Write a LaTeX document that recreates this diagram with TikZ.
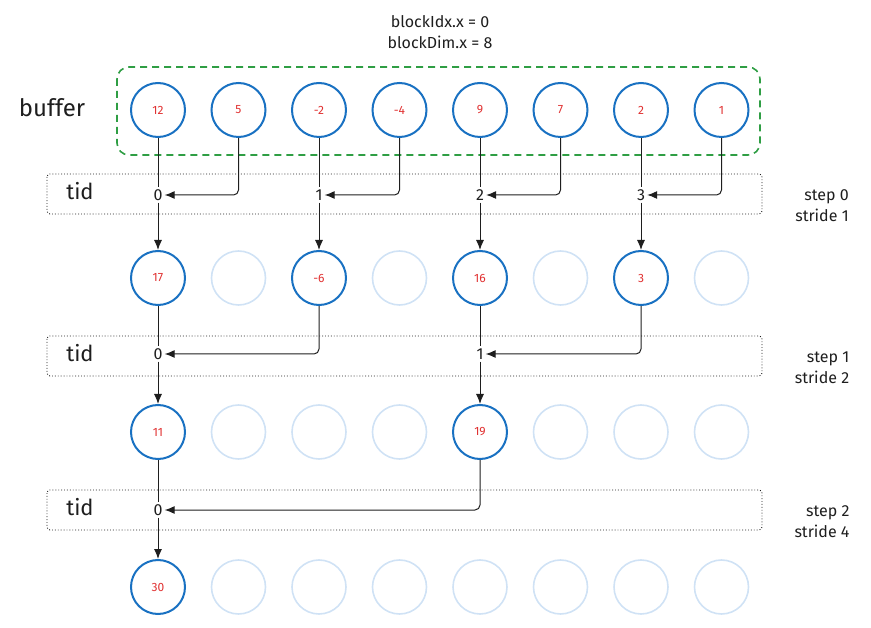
\documentclass[tikz,border=0pt]{standalone}
\usepackage{fontspec}
\setmainfont{Fira Sans}
\usetikzlibrary{arrows.meta}
\definecolor{cb}{HTML}{1971C2}
\definecolor{ce}{HTML}{D0E2F5}
\definecolor{cr}{HTML}{E03131}
\definecolor{cg}{HTML}{2F9E44}
\definecolor{ck}{HTML}{1E1E1E}
\begin{document}
\begin{tikzpicture}[x=1pt,y=-1pt,
 c/.style={circle,draw=cb,line width=2pt,minimum size=54pt,inner sep=0pt,text=cr,font=\fontsize{12}{14}\selectfont},
 e/.style={circle,draw=ce,line width=1.6pt,minimum size=54pt,inner sep=0pt},
 t/.style={font=\fontsize{16}{18}\selectfont,inner sep=2pt,text=ck},
 a/.style={-{Latex[length=10pt,width=8pt]},line width=1pt,draw=ck},
 l/.style={line width=1pt,draw=ck},
 j/.style={-{Latex[length=10pt,width=8pt]},line width=1pt,draw=ck,rounded corners=5pt},
 box/.style={draw=ck,dotted,line width=0.9pt,rounded corners=3pt}]
\useasboundingbox (0,0) rectangle (871,628);
\draw[dashed,draw=cg,line width=1.6pt,rounded corners=12pt,dash pattern=on 7pt off 5pt] (117,67) rectangle (760,155);
\node[text=ck,font=\fontsize{24}{26}\selectfont] at (52,108) {buffer};
\node[align=center,text=ck,font=\fontsize{16}{21}\selectfont] at (440,32) {blockIdx.x = 0\\blockDim.x = 8};
\foreach \y/\s/\t in {194/0/1,356/1/2,510/2/4}{
 \draw[box] (47,\y-20) rectangle (762,\y+20);
 \node[text=ck,font=\fontsize{22}{24}\selectfont] at (80,\y-3) {tid};
 \node[align=right,text=ck,font=\fontsize{16}{21}\selectfont] at (822,\y+12) {step \s\\stride \t};
}
\foreach \v [count=\i] in {12,5,-2,-4,9,7,2,1}{ \node[c] (a\i) at (158+80.5*\i-80.5,110) {\v}; }
\foreach \i/\v in {1/17,3/-6,5/16,7/3}{ \node[c] (b\i) at (158+80.5*\i-80.5,278) {\v}; }
\foreach \i in {2,4,6,8}{ \node[e] (b\i) at (158+80.5*\i-80.5,278) {}; }
\foreach \i/\v in {1/11,5/19}{ \node[c] (d\i) at (158+80.5*\i-80.5,432) {\v}; }
\foreach \i in {2,3,4,6,7,8}{ \node[e] (d\i) at (158+80.5*\i-80.5,432) {}; }
\node[c] (f1) at (158,587) {30};
\foreach \i in {2,...,8}{ \node[e] (f\i) at (158+80.5*\i-80.5,587) {}; }
\foreach \i/\k/\n in {1/0/2,3/1/4,5/2/6,7/3/8}{
 \node[t] (s\i) at (158+80.5*\i-80.5,195) {\k};
 \draw[l] (a\i.south) -- (s\i.north);
 \draw[a] (s\i.south) -- (b\i.north);
 \draw[j] (a\n.south) |- (s\i.east);
}
\foreach \i/\k/\n in {1/0/3,5/1/7}{
 \node[t] (u\i) at (158+80.5*\i-80.5,354) {\k};
 \draw[l] (b\i.south) -- (u\i.north);
 \draw[a] (u\i.south) -- (d\i.north);
 \draw[j] (b\n.south) |- (u\i.east);
}
\node[t] (v1) at (158,510) {0};
\draw[l] (d1.south) -- (v1.north);
\draw[a] (v1.south) -- (f1.north);
\draw[j] (d5.south) |- (v1.east);
\end{tikzpicture}
\end{document}
